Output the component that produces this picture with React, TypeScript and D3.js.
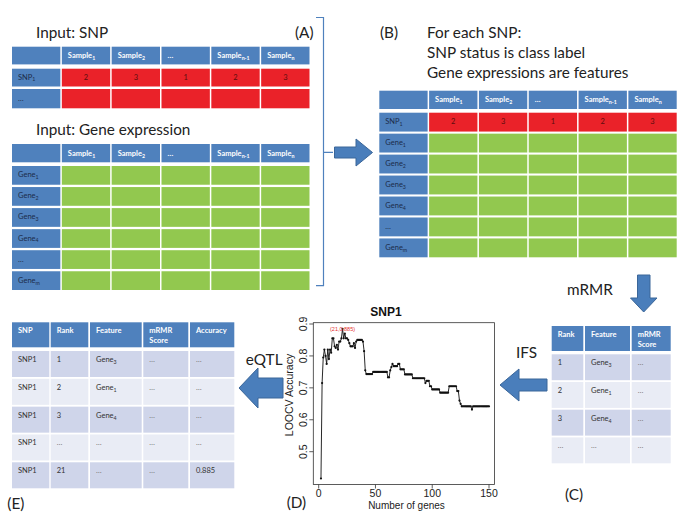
import React from 'react';
import * as d3 from 'd3';

// ---------- data ----------
const sampleHeaders = ['', 'Sample_1', 'Sample_2', '…', 'Sample_n-1', 'Sample_n'];
const snpRowLabels = ['SNP_1', '…'];
const snpValues = ['2', '3', '1', '2', '3'];
const geneRowLabels = ['Gene_1', 'Gene_2', 'Gene_3', 'Gene_4', '…', 'Gene_m'];
const rankHeaders = ['Rank', 'Feature', 'mRMR|Score'];
const rankRows = [
  ['1', 'Gene_3', '…'],
  ['2', 'Gene_1', '…'],
  ['3', 'Gene_4', '…'],
  ['…', '…', '…'],
];
const eqtlHeaders = ['SNP', 'Rank', 'Feature', 'mRMR|Score', 'Accuracy'];
const eqtlRows = [
  ['SNP1', '1', 'Gene_3', '…', '…'],
  ['SNP1', '2', 'Gene_1', '…', '…'],
  ['SNP1', '3', 'Gene_4', '…', '…'],
  ['SNP1', '…', '…', '…', '…'],
  ['SNP1', '21', '…', '…', '0.885'],
];
// IFS curve: [first gene count, last gene count, LOOCV accuracy]
const accuracyRuns: [number, number, number][] = [
  [2, 2, 0.416], [3, 3, 0.715], [4, 4, 0.795], [5, 5, 0.82], [6, 6, 0.8], [7, 7, 0.775],
  [8, 8, 0.82], [9, 9, 0.79], [10, 10, 0.82], [11, 11, 0.81], [12, 13, 0.855],
  [14, 14, 0.83], [15, 15, 0.825], [16, 16, 0.835], [17, 17, 0.82], [18, 19, 0.845],
  [20, 20, 0.855], [21, 21, 0.885], [22, 22, 0.855], [23, 23, 0.87], [24, 25, 0.855],
  [26, 26, 0.85], [27, 27, 0.84], [28, 30, 0.83], [31, 31, 0.84], [32, 32, 0.825],
  [33, 33, 0.845], [34, 38, 0.85], [39, 39, 0.845], [40, 40, 0.815], [41, 41, 0.755],
  [42, 47, 0.743], [48, 60, 0.75], [61, 62, 0.733], [63, 63, 0.755], [64, 64, 0.765],
  [65, 65, 0.775], [66, 69, 0.768], [70, 71, 0.775], [72, 75, 0.758], [76, 82, 0.742],
  [83, 93, 0.73], [94, 94, 0.715], [95, 97, 0.722], [98, 99, 0.705], [100, 106, 0.695],
  [107, 114, 0.685], [115, 121, 0.705], [122, 123, 0.69], [124, 124, 0.66], [125, 125, 0.65],
  [126, 134, 0.642], [135, 135, 0.632], [136, 150, 0.642],
];
const peakLabel = '(21,0.885)';
const xTicks = [0, 50, 100, 150];
const yTicks = [0.5, 0.6, 0.7, 0.8, 0.9];

// ---------- style ----------
const FONT = "Lato, 'Open Sans', sans-serif";
const RFONT = "'Liberation Sans', Arial, sans-serif";
const BLUE = '#4f81bd';
const RED = '#ea2229';
const GREEN = '#92c84f';
const DARK_ROW = '#cfd5ea';
const LIGHT_ROW = '#e9ecf5';
const NAVY = '#1c2c4a';

function Lbl({ x, y, text, size, fill, weight, anchor }: any) {
  const [base, sub] = text.split('_');
  return (
    <text x={x} y={y} fontSize={size} fill={fill} fontWeight={weight || 'normal'} textAnchor={anchor || 'start'} fontFamily={FONT}>
      {base}
      {sub !== undefined && (
        <tspan fontSize={size * 0.7} dy={size * 0.25}>{sub}</tspan>
      )}
    </text>
  );
}

function SampleTable({ x0, x1, headerY, headerH, rowYs, rowH, rowLabels, cellFill, values }: any) {
  const cols = d3.scaleBand<number>().domain(d3.range(6)).range([x0, x1]).paddingInner(0.03);
  const bw = cols.bandwidth();
  return (
    <g>
      {sampleHeaders.map((h, i) => (
        <g key={'h' + i}>
          <rect x={cols(i)} y={headerY} width={bw} height={headerH} fill={BLUE} />
          {h && <Lbl x={cols(i)! + 6} y={headerY + headerH / 2 + 2.5} text={h} size={7.5} fill="#fff" weight="bold" />}
        </g>
      ))}
      {rowLabels.map((r: string, ri: number) => (
        <g key={'r' + ri}>
          <rect x={cols(0)} y={rowYs[ri]} width={bw} height={rowH[ri]} fill={BLUE} />
          <Lbl x={cols(0)! + 6} y={rowYs[ri] + rowH[ri] / 2 + 2} text={r} size={7.5} fill={NAVY} />
          {d3.range(1, 6).map((ci) => (
            <g key={ci}>
              <rect x={cols(ci)} y={rowYs[ri]} width={bw} height={rowH[ri]} fill={cellFill(ri)} />
              {values && values(ri) && (
                <text x={cols(ci)! + bw / 2} y={rowYs[ri] + rowH[ri] / 2 + 2} fontSize={7.5} fill="#5c0d0d" textAnchor="middle" fontFamily={FONT}>
                  {values(ri)[ci - 1]}
                </text>
              )}
            </g>
          ))}
        </g>
      ))}
    </g>
  );
}

function ListTable({ colX, colW, headerY, headerH, rowRange, headers, rows }: any) {
  const rowsBand = d3.scaleBand<number>().domain(d3.range(rows.length)).range(rowRange).paddingInner(0.065);
  const rh = rowsBand.bandwidth();
  return (
    <g>
      {headers.map((h: string, i: number) => (
        <g key={'h' + i}>
          <rect x={colX[i]} y={headerY} width={colW[i]} height={headerH} fill={BLUE} />
          {h.split('|').map((line, li) => (
            <text key={li} x={colX[i] + 6} y={headerY + 11 + li * 10} fontSize={7.5} fill="#fff" fontWeight="bold" fontFamily={FONT}>
              {line}
            </text>
          ))}
        </g>
      ))}
      {rows.map((row: string[], ri: number) => (
        <g key={'r' + ri}>
          {row.map((c, ci) => (
            <g key={ci}>
              <rect x={colX[ci]} y={rowsBand(ri)} width={colW[ci]} height={rh} fill={ri % 2 === 0 ? DARK_ROW : LIGHT_ROW} />
              <Lbl x={colX[ci] + 6} y={rowsBand(ri)! + 11} text={c} size={7.5} fill={c === '…' ? '#777' : '#333'} />
            </g>
          ))}
        </g>
      ))}
    </g>
  );
}

function Arrow({ d }: { d: string }) {
  return <path d={d} fill="#4a7ebb" stroke="#3b6699" strokeWidth={1} />;
}

function IFSPlot() {
  const x = d3.scaleLinear().domain([0, 150]).range([318.7, 489]);
  const y = d3.scaleLinear().domain([0.5, 0.9]).range([451.7, 324]);
  const pts: [number, number][] = [];
  accuracyRuns.forEach(([a, b, v]) => {
    for (let n = a; n <= b; n++) pts.push([n, v]);
  });
  const line = d3.line<[number, number]>().x((d) => x(d[0])).y((d) => y(d[1]));
  const box = { x0: 313.3, x1: 494.5, y0: 322.7, y1: 484.5 };
  return (
    <g fontFamily={RFONT}>
      <rect x={box.x0} y={box.y0} width={box.x1 - box.x0} height={box.y1 - box.y0} fill="none" stroke="#333" strokeWidth={0.8} />
      <path d={line(pts)!} fill="none" stroke="#111" strokeWidth={0.9} />
      {pts.map(([n, v]) => (
        <circle key={n} cx={x(n)} cy={y(v)} r={1.1} fill="#111" />
      ))}
      <text x={x(21)} y={y(0.885) + 2} fontSize={5.5} fill="#e53030" textAnchor="middle">{peakLabel}</text>
      {xTicks.map((t) => (
        <g key={t}>
          <line x1={x(t)} x2={x(t)} y1={box.y1} y2={box.y1 + 4} stroke="#333" strokeWidth={0.8} />
          <text x={x(t)} y={496.5} fontSize={10.5} textAnchor="middle" fill="#222">{t}</text>
        </g>
      ))}
      {yTicks.map((t) => (
        <g key={t}>
          <line x1={box.x0 - 4} x2={box.x0} y1={y(t)} y2={y(t)} stroke="#333" strokeWidth={0.8} />
          <text transform={`translate(306.5,${y(t)}) rotate(-90)`} fontSize={10.5} textAnchor="middle" fill="#222">{t.toFixed(1)}</text>
        </g>
      ))}
      <text x={386} y={316} fontSize={12} fontWeight="bold" textAnchor="middle" fill="#111">SNP1</text>
      <text x={406.5} y={508.7} fontSize={10} textAnchor="middle" fill="#222">Number of genes</text>
      <text transform="translate(293.3,395) rotate(-90)" fontSize={10.5} textAnchor="middle" fill="#222">LOOCV Accuracy</text>
    </g>
  );
}

export default function App() {
  const geneRowsA = d3.scaleBand<number>().domain(d3.range(6)).range([166, 290]).paddingInner(0.11);
  const rowsB = d3.scaleBand<number>().domain(d3.range(7)).range([112.7, 257.3]).paddingInner(0.1);
  const big = 15.3;
  return (
    <svg width={689} height={517} style={{ position: 'absolute', left: 0, top: 0, background: '#fff' }}>
      <rect width={689} height={517} fill="#fff" />
      {/* Panel A */}
      <text x={36} y={37.7} fontSize={big} fontFamily={FONT} fill="#222">Input: SNP</text>
      <text x={313.5} y={38} fontSize={big} fontFamily={FONT} fill="#222" textAnchor="end">(A)</text>
      <SampleTable
        x0={12} x1={309.5} headerY={46.7} headerH={17.7}
        rowYs={[68.7, 89]} rowH={[17.8, 19.3]}
        rowLabels={snpRowLabels}
        cellFill={() => RED}
        values={(ri: number) => (ri === 0 ? snpValues : null)}
      />
      <text x={36} y={135} fontSize={big} fontFamily={FONT} fill="#222">Input: Gene expression</text>
      <SampleTable
        x0={12} x1={309.5} headerY={144} headerH={18.3}
        rowYs={d3.range(6).map((i) => geneRowsA(i))} rowH={d3.range(6).map(() => geneRowsA.bandwidth())}
        rowLabels={geneRowLabels}
        cellFill={() => GREEN}
      />
      <path d="M316,17.5 H323.5 V285.7 H316 M323.5,152.3 H333" fill="none" stroke={BLUE} strokeWidth={1.2} />
      <Arrow d="M334.5,147 H356 V139 L372.5,152.5 L356,166 V158 H334.5 Z" />

      {/* Panel B */}
      <text x={380} y={38} fontSize={big} fontFamily={FONT} fill="#222">(B)</text>
      <text x={427} y={37.7} fontSize={big} fontFamily={FONT} fill="#222">For each SNP:</text>
      <text x={427} y={58} fontSize={big} fontFamily={FONT} fill="#222">SNP status is class label</text>
      <text x={427} y={78.3} fontSize={big} fontFamily={FONT} fill="#222">Gene expressions are features</text>
      <SampleTable
        x0={379.3} x1={676.7} headerY={90.7} headerH={18.3}
        rowYs={d3.range(7).map((i) => rowsB(i))} rowH={d3.range(7).map(() => rowsB.bandwidth())}
        rowLabels={['SNP_1', ...geneRowLabels]}
        cellFill={(ri: number) => (ri === 0 ? RED : GREEN)}
        values={(ri: number) => (ri === 0 ? snpValues : null)}
      />

      {/* mRMR arrow */}
      <text x={567} y={295} fontSize={big} fontFamily={FONT} fill="#222">mRMR</text>
      <Arrow d="M637.5,275 H650 V298 H657 L643.7,312 L630.5,298 H637.5 Z" />

      {/* Panel C */}
      <ListTable
        colX={[551.7, 585, 631.7]} colW={[31.6, 45, 39]}
        headerY={326} headerH={25} rowRange={[354.3, 463.3]}
        headers={rankHeaders} rows={rankRows}
      />
      <text x={565} y={500} fontSize={big} fontFamily={FONT} fill="#222">(C)</text>

      {/* IFS arrow */}
      <text x={537} y={357.5} fontSize={big} fontFamily={FONT} fill="#222" textAnchor="end">IFS</text>
      <Arrow d="M547,379 H519 V369 L500,385 L519,401 V391 H547 Z" />

      {/* Panel D */}
      <IFSPlot />
      <text x={286.7} y={507.5} fontSize={big} fontFamily={FONT} fill="#222">(D)</text>

      {/* eQTL arrow */}
      <text x={282.5} y={365} fontSize={big} fontFamily={FONT} fill="#222" textAnchor="end">eQTL</text>
      <Arrow d="M283,378 H258 V368 L239,388 L258,408 V398 H283 Z" />

      {/* Panel E */}
      <ListTable
        colX={[12, 50.7, 90, 143.3, 190]} colW={[37.3, 37.6, 51.7, 45, 44.3]}
        headerY={322.3} headerH={25} rowRange={[351, 488.3]}
        headers={eqtlHeaders} rows={eqtlRows}
      />
      <text x={7.3} y={508.5} fontSize={big} fontFamily={FONT} fill="#222">(E)</text>
    </svg>
  );
}
